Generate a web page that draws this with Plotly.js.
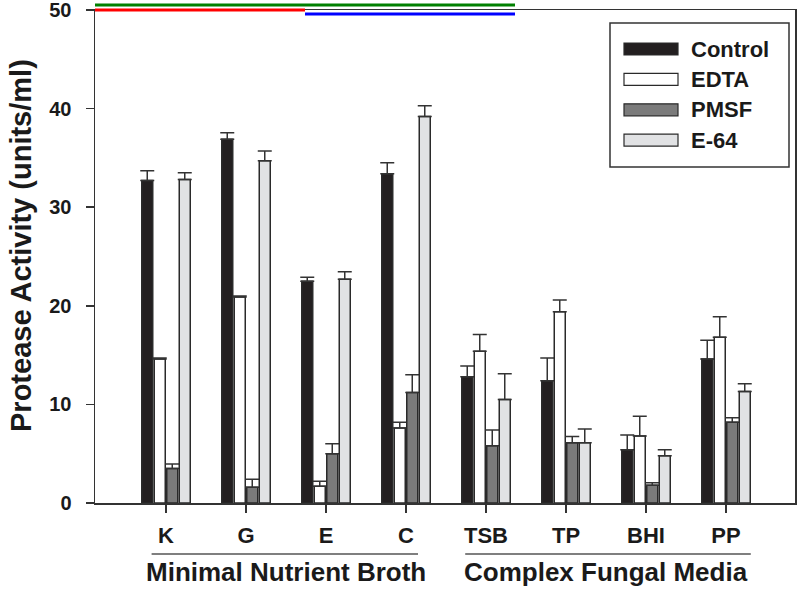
<!DOCTYPE html>
<html>
<head>
<meta charset="utf-8">
<script src="https://cdn.plot.ly/plotly-3.0.1.min.js"></script>
<style>
  body { margin: 0; background: #fff; }
  #chart { width: 800px; height: 589px; }
</style>
</head>
<body>
<div id="chart"></div>
<script>
// media and treatments
const media = ['K', 'G', 'E', 'C', 'TSB', 'TP', 'BHI', 'PP'];
const treatments = ['Control', 'EDTA', 'PMSF', 'E-64'];
const colors = ['#231f20', '#ffffff', '#7b7b7b', '#e1e2e4'];

// protease activity (units/ml)
const control = [32.7, 36.9, 22.5, 33.4, 12.8, 12.4, 5.4, 14.6];
const edta    = [14.6, 20.9, 1.7, 7.6, 15.4, 19.4, 6.8, 16.8];
const pmsf    = [3.5, 1.6, 5.0, 11.2, 5.8, 6.1, 1.8, 8.2];
const e64     = [32.8, 34.7, 22.7, 39.2, 10.5, 6.1, 4.8, 11.3];

// standard errors (upper bars only)
const controlErr = [1.0, 0.65, 0.4, 1.1, 1.1, 2.3, 1.5, 1.9];
const edtaErr    = [0.1, 0.1, 0.5, 0.6, 1.7, 1.2, 2.0, 2.1];
const pmsfErr    = [0.45, 0.8, 1.0, 1.8, 1.6, 0.65, 0.25, 0.45];
const e64Err     = [0.7, 1.0, 0.75, 1.1, 2.6, 1.4, 0.6, 0.8];

const groups = ['Minimal Nutrient Broth', 'Complex Fungal Media'];

const values = [control, edta, pmsf, e64];
const errors = [controlErr, edtaErr, pmsfErr, e64Err];

const traces = treatments.map((name, i) => ({
    x: media,
    y: values[i],
    type: 'bar',
    name: name,
    showlegend: false,
    marker: { color: colors[i], line: { color: '#2a2a2a', width: 1.5 } },
    error_y: {
        type: 'data',
        symmetric: false,
        array: errors[i],
        arrayminus: errors[i].map(() => 0),
        color: '#333',
        thickness: 1.5,
        width: 7
    }
}));

// plot area in pixels: x 95..795, y 10..503
const L = 95, R = 795, T = 10, B = 503;
const px = x => (x - L) / (R - L);
const py = y => (B - y) / (B - T);

const bold = { family: 'Liberation Sans, Arial, sans-serif', weight: 700, color: '#1a1a1a' };

// debug lines to find where the top edge goes
const shapes = [
    { type: 'line', xref: 'paper', yref: 'paper', x0: 0, x1: 0.3, y0: py(10), y1: py(10), line: { color: 'red', width: 3 } },
    { type: 'line', xref: 'paper', yref: 'paper', x0: 0.3, x1: 0.6, y0: py(14), y1: py(14), line: { color: 'blue', width: 3 } },
    { type: 'line', xref: 'paper', yref: 'paper', x0: 0, x1: 0.6, y0: py(5), y1: py(5), line: { color: 'green', width: 3 } }
];

shapes.push({
    type: 'rect', xref: 'paper', yref: 'paper',
    x0: px(610), x1: px(789), y0: py(167), y1: py(23),
    line: { color: '#333', width: 1.5 }, fillcolor: '#fff'
});
const annotations = [];
treatments.forEach((name, i) => {
    const yc = 49 + i * 30.4;
    shapes.push({
        type: 'rect', xref: 'paper', yref: 'paper',
        x0: px(624), x1: px(678), y0: py(yc + 6), y1: py(yc - 6),
        line: { color: '#2a2a2a', width: 1.2 }, fillcolor: colors[i]
    });
    annotations.push({
        xref: 'paper', yref: 'paper', x: px(689), y: py(yc),
        xanchor: 'left', yanchor: 'middle', showarrow: false,
        text: name, font: Object.assign({}, bold, { size: 22 })
    });
});

const groupSpans = [[-0.18, 3.15], [3.74, 7.31]];
groups.forEach((g, i) => {
    const [a, b] = groupSpans[i];
    shapes.push({
        type: 'line', xref: 'x', yref: 'paper',
        x0: a, x1: b, y0: py(554), y1: py(554),
        line: { color: '#555', width: 1.5 }
    });
    annotations.push({
        xref: 'x', yref: 'paper', x: i === 0 ? 1.5 : 5.5, y: py(572),
        xanchor: 'center', yanchor: 'middle', showarrow: false,
        text: g,
        font: Object.assign({}, bold, { size: 26 })
    });
});

annotations.push({
    xref: 'paper', yref: 'paper', x: px(21), y: py(246),
    xanchor: 'center', yanchor: 'middle', showarrow: false, textangle: -90,
    text: 'Protease Activity (units/ml)',
    font: Object.assign({}, bold, { size: 29 })
});

const layout = {
    width: 800,
    height: 589,
    margin: { l: L, r: 800 - R, t: T, b: 589 - B },
    paper_bgcolor: '#fff',
    plot_bgcolor: '#fff',
    barmode: 'group',
    bargap: 0.375,
    bargroupgap: 0.12,
    showlegend: false,
    xaxis: {
        type: 'category',
        range: [-0.8875, 7.8625],
        showline: true, mirror: true, linecolor: '#333', linewidth: 1.5,
        ticks: 'outside', ticklen: 8, tickcolor: '#333', tickwidth: 1.5,
        ticklabelstandoff: 4,
        tickfont: Object.assign({}, bold, { size: 22 }),
        showgrid: false
    },
    yaxis: {
        range: [0, 50],
        dtick: 10,
        showline: true, mirror: true, linecolor: '#333', linewidth: 1.5,
        ticks: 'outside', ticklen: 8, tickcolor: '#333', tickwidth: 1.5,
        ticklabelstandoff: 10,
        ticklabeloverflow: 'allow',
        tickfont: Object.assign({}, bold, { size: 20 }),
        showgrid: false, zeroline: false
    },
    shapes: shapes,
    annotations: annotations
};

Plotly.newPlot('chart', traces, layout, { displayModeBar: false, staticPlot: true });
</script>
</body>
</html>
